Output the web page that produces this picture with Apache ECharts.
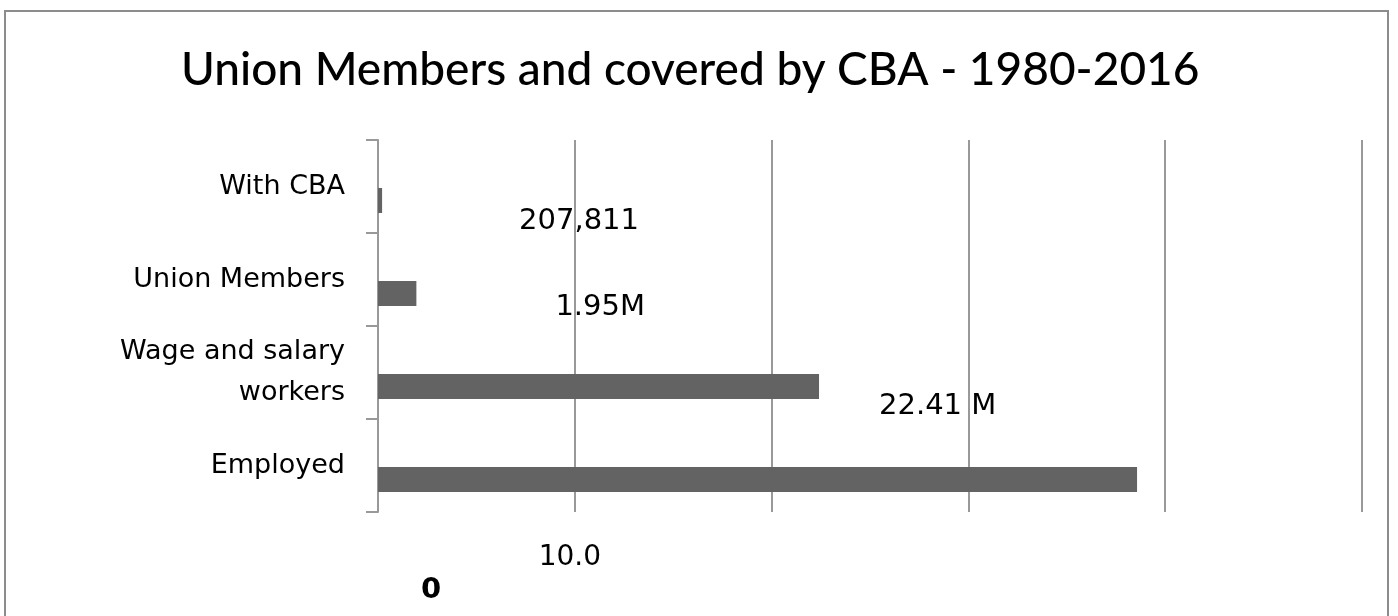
<!DOCTYPE html>
<html>
<head>
<meta charset="utf-8">
<script src="https://cdn.jsdelivr.net/npm/echarts@6/dist/echarts.min.js"></script>
<style>
html,body{margin:0;padding:0;background:#fff;}
#chart{width:1398px;height:616px;}
</style>
</head>
<body>
<div id="chart"></div>
<script>
// ---- data ----
const titleText = 'Union Members and covered by CBA - 1980-2016';
const categories = ['With CBA', 'Union Members', 'Wage and salary\nworkers', 'Employed'];
const values = [0.207811, 1.95, 22.41, 38.57];
const valueLabels = ['207,811', '1.95M', '22.41 M', ''];
const xTickLabels = { 10: '10.0' };
const cornerLabel = '0';

// ---- presentation ----
const labelOffsets = [[132, 21], [134, 14], [55, 20], [0, 0]];
const TITLE_FONT = 'Lato';
const FONT = 'DejaVu Sans';

const chart = echarts.init(document.getElementById('chart'));
const seriesData = values.map((v, i) => ({
  value: v,
  label: {
    show: valueLabels[i] !== '',
    formatter: valueLabels[i],
    offset: labelOffsets[i]
  }
}));

chart.setOption({
  animation: false,
  backgroundColor: '#fff',
  title: {
    text: titleText,
    left: 176,
    top: 42,
    textStyle: { fontFamily: TITLE_FONT, fontSize: 46, fontWeight: 500, color: '#000' }
  },
  grid: { left: 378, right: 36, top: 140, bottom: 104, containLabel: false },
  xAxis: {
    type: 'value',
    min: 0, max: 50, interval: 10,
    axisLine: { show: false },
    axisTick: { show: false },
    axisLabel: {
      margin: 32,
      padding: [0, 10, 0, 0],
      fontFamily: FONT, fontSize: 28, color: '#000',
      formatter: v => xTickLabels[v] || ''
    },
    splitLine: { show: true, lineStyle: { color: '#999', width: 2 } }
  },
  yAxis: {
    type: 'category',
    inverse: true,
    data: categories,
    axisLine: { show: true, lineStyle: { color: '#999', width: 2 } },
    axisTick: { show: true, length: 12, lineStyle: { color: '#999', width: 2 } },
    axisLabel: { margin: 33, fontFamily: FONT, fontSize: 27, color: '#000', lineHeight: 41, align: 'right' },
    splitLine: { show: false }
  },
  series: [
    {
      type: 'bar',
      name: 'pad',
      data: [],
      barWidth: 25,
      barGap: '12%'
    },
    {
      type: 'bar',
      name: 'Count',
      data: seriesData,
      barWidth: 25,
      barGap: '12%',
      itemStyle: { color: '#636363' },
      label: {
        position: 'right',
        fontFamily: FONT, fontSize: 29, color: '#000'
      }
    }
  ],
  graphic: [
    {
      type: 'rect',
      shape: { x: 5, y: 11, width: 1383, height: 640 },
      style: { fill: 'none', stroke: '#8c8c8c', lineWidth: 2 },
      z: -1
    },
    {
      type: 'text',
      left: 421, top: 576,
      style: { text: cornerLabel, font: 'bold 29px ' + FONT, fill: '#000' }
    }
  ]
});
</script>
</body>
</html>
